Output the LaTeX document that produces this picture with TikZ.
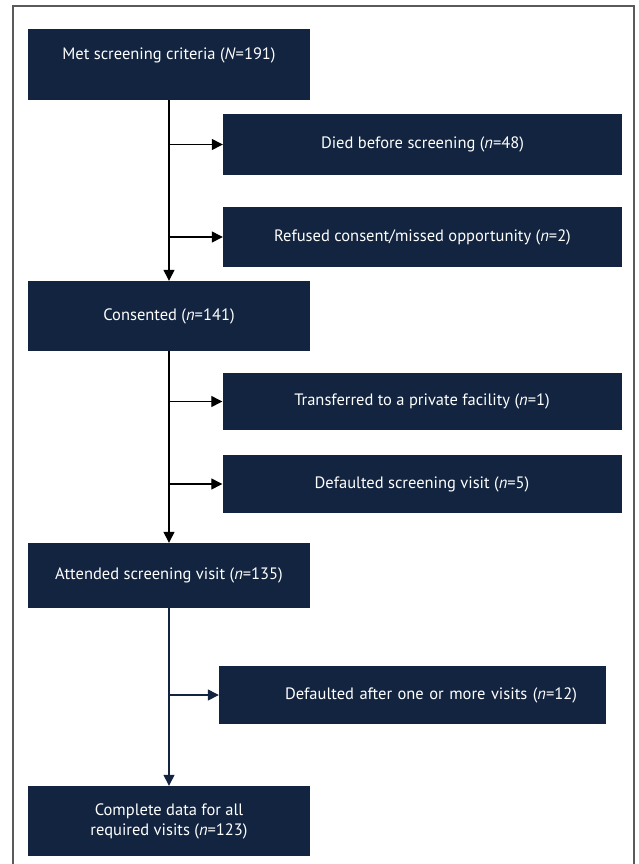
\documentclass[tikz,border=0pt]{standalone}
\usepackage{fontspec}
\setmainfont{PT Sans}
\usepackage{tikz}
\usetikzlibrary{arrows.meta,positioning,calc}
\definecolor{navy}{HTML}{12243F}
\definecolor{framegray}{HTML}{5A5A5A}
\tikzset{
    flow box/.style={fill=navy,text=white,inner sep=0pt,align=center,
        font=\fontsize{16.5}{20}\selectfont},
    main box/.style={flow box,minimum width=282pt},
    side box/.style={flow box,minimum width=399pt},
    flow arrow/.style={line width=1.3pt,-{Triangle[length=11pt,width=11pt]}}
}

\begin{document}
\begin{tikzpicture}[x=1pt,y=-1pt]
        \useasboundingbox (0,0) rectangle (638,864);
        \draw[framegray,line width=1.6pt] (13,866) -- (13,6) -- (634,6) -- (634,866);

        \node[main box,minimum height=71pt,text height=31pt,text depth=40pt] (met) at (169,64.5)
            {Met screening criteria (\textit{N}=191)};
        \node[side box,minimum height=61pt] (died) at (422.5,144.5)
            {Died before screening (\textit{n}=48)};
        \node[side box,minimum height=60pt] (refused) at (422.5,237)
            {Refused consent/missed opportunity (\textit{n}=2)};
        \node[main box,minimum height=70pt] (consented) at (169,316)
            {Consented (\textit{n}=141)};
        \node[side box,minimum height=57pt] (transferred) at (422,401.5)
            {Transferred to a private facility (\textit{n}=1)};
        \node[side box,minimum height=58pt] (defscreen) at (422,484)
            {Defaulted screening visit (\textit{n}=5)};
        \node[main box,minimum height=65pt] (attended) at (169,575.5)
            {Attended screening visit (\textit{n}=135)};
        \node[flow box,minimum width=387pt,minimum height=58pt,text width=329pt,align=right] (defvisits) at (412.5,695)
            {Defaulted after one or more visits (\textit{n}=12)};
        \node[main box,minimum height=70pt] (complete) at (169,821)
            {Complete data for all\\required visits (\textit{n}=123)};

        \draw[flow arrow] (met.south) -- (consented.north);
        \draw[flow arrow] (met.south |- died.west) -- (died.west);
        \draw[flow arrow] (met.south |- refused.west) -- (refused.west);

        \draw[flow arrow] (consented.south) -- (attended.north);
        \draw[flow arrow] (consented.south |- transferred.west) -- (transferred.west);
        \draw[flow arrow] (consented.south |- defscreen.west) -- (defscreen.west);

        \draw[flow arrow,navy] (attended.south) -- (complete.north);
        \draw[flow arrow,navy] (attended.south |- defvisits.west) -- (defvisits.west);
\end{tikzpicture}
\end{document}
